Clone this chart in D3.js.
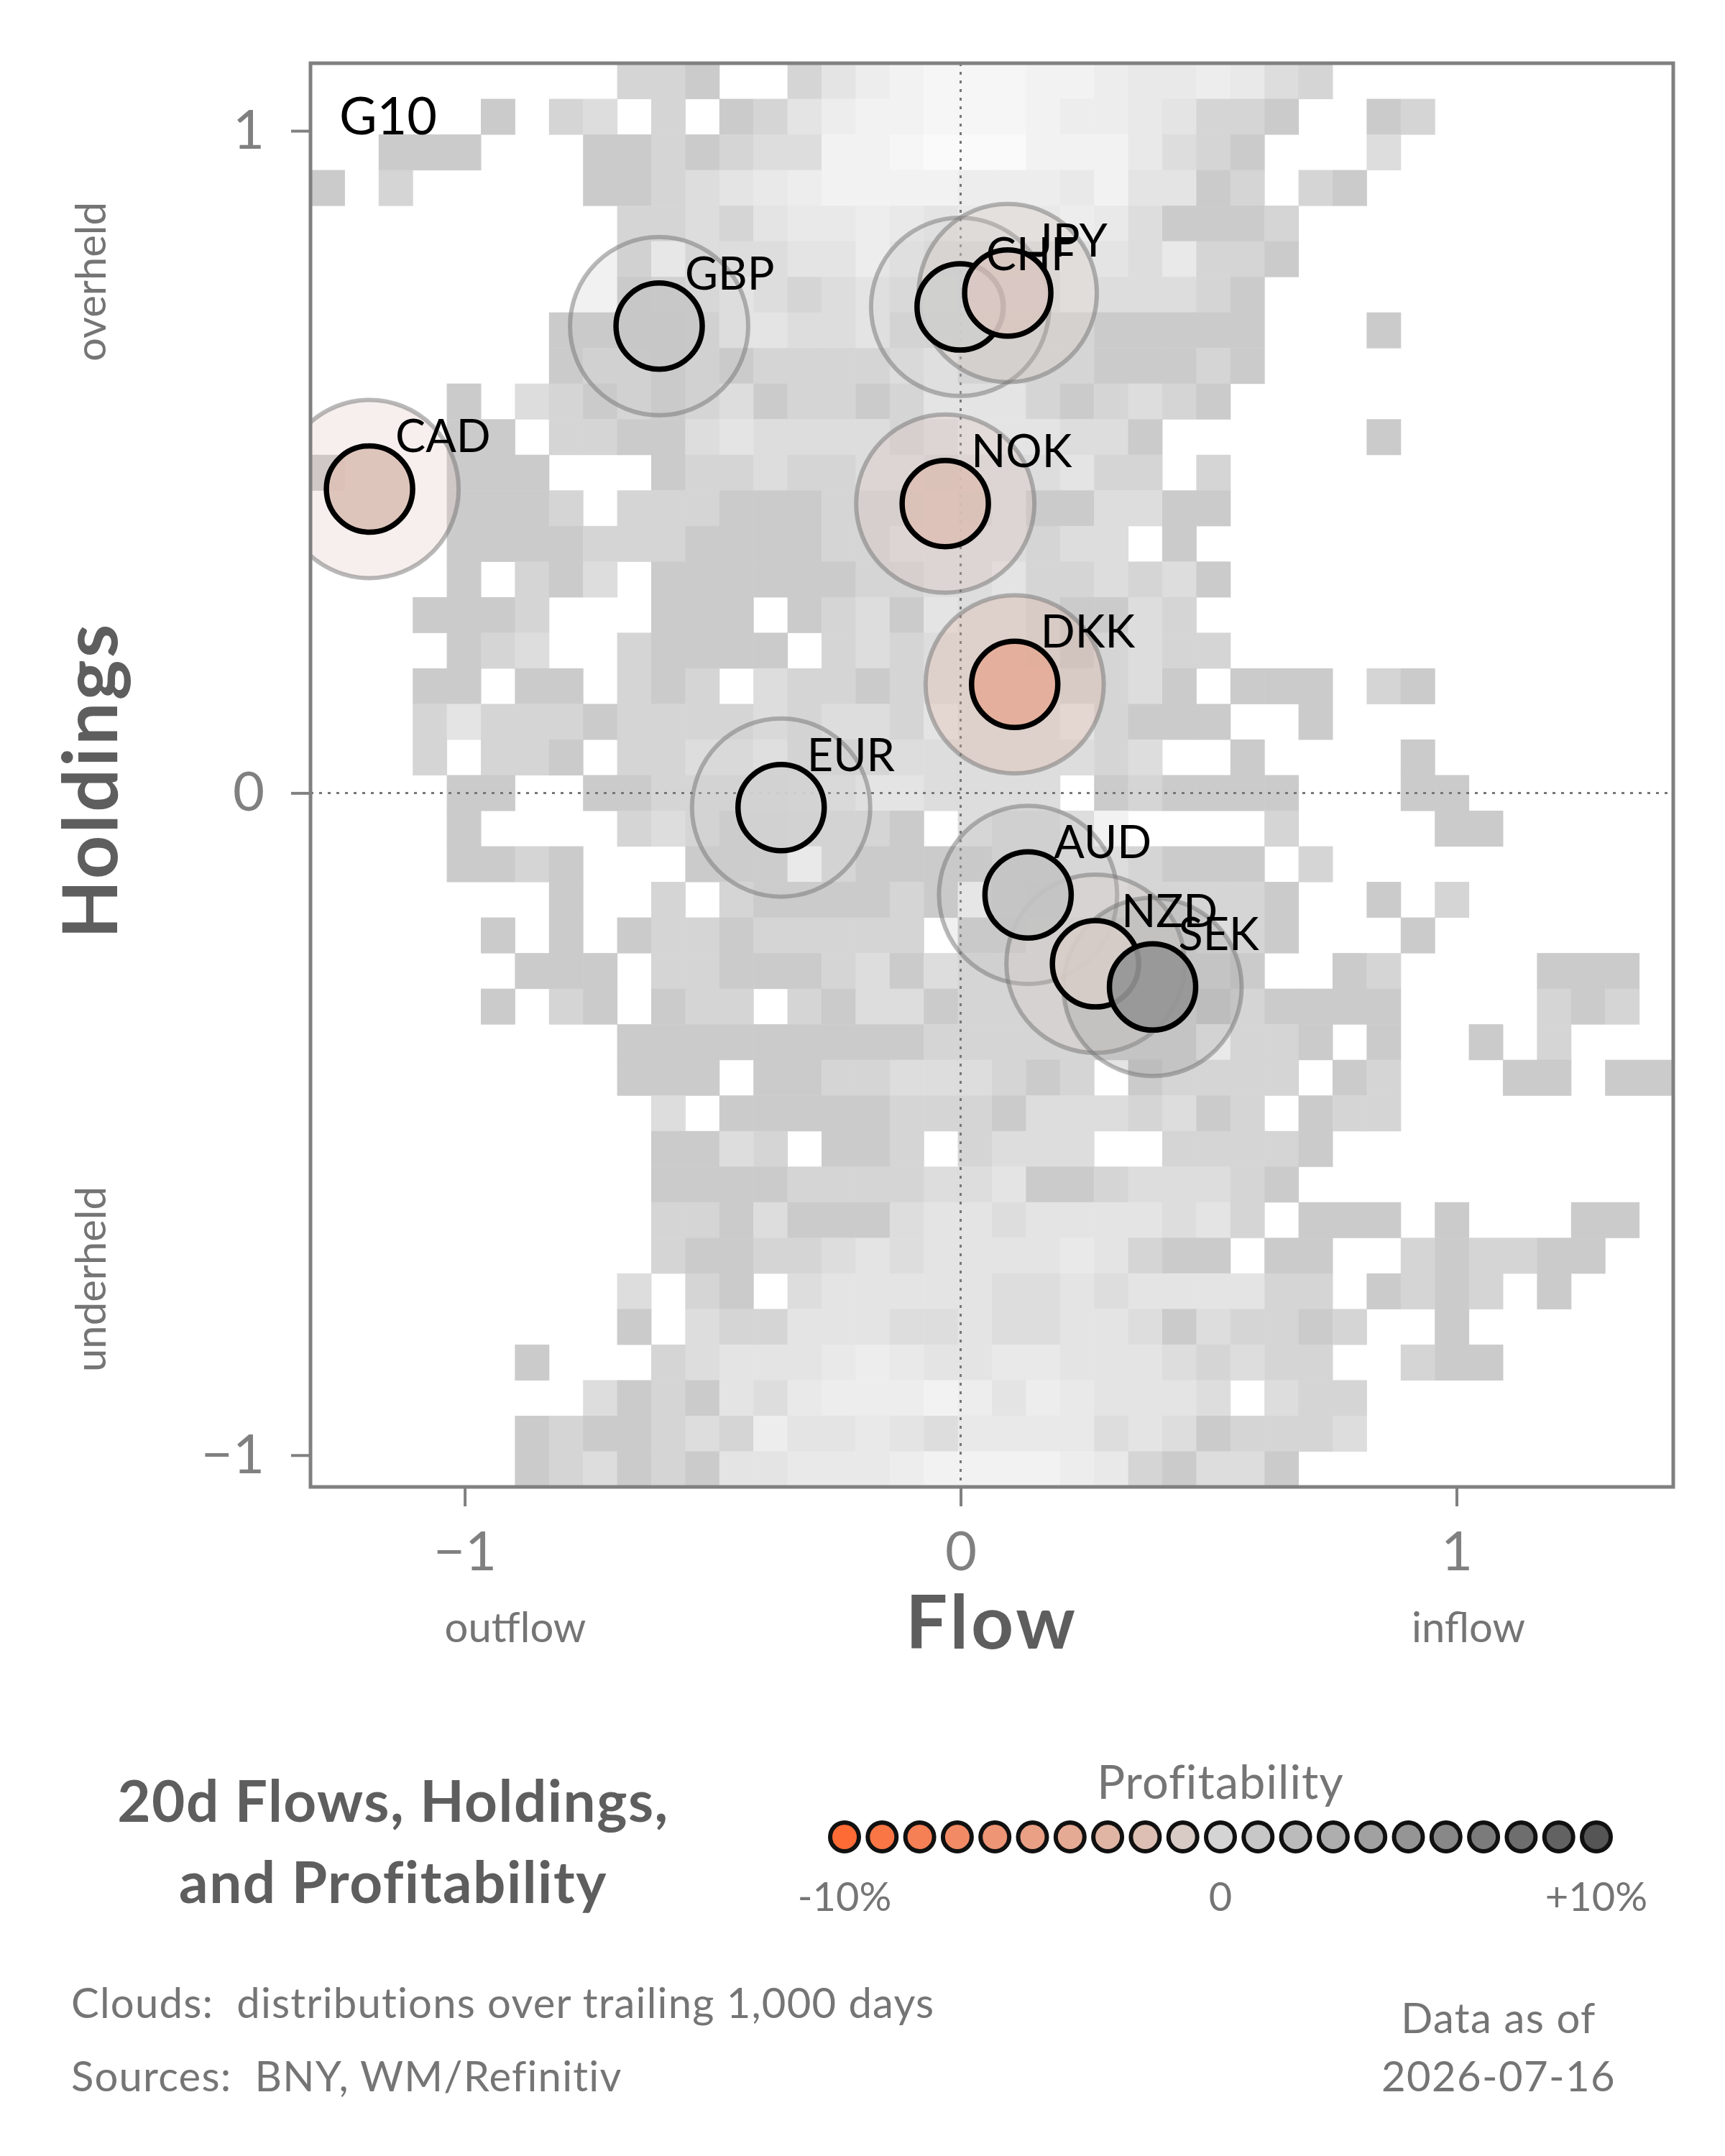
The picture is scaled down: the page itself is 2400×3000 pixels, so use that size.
<!DOCTYPE html>
<html>
<head>
<meta charset="utf-8">
<script src="https://cdn.jsdelivr.net/npm/d3@7"></script>
<style>
  body { margin: 0; background: #fff; }
  svg { display: block; font-family: Lato, "Open Sans", sans-serif; }
  .pre { white-space: pre; }
</style>
</head>
<body>
<svg id="chart" width="2400" height="3000"></svg>
<script>
// G10 currencies: 20d flow, holdings, profitability (%)
var ccy      = ["CAD", "GBP", "CHF", "JPY", "NOK", "DKK", "EUR", "AUD", "NZD", "SEK"];
var flow     = [-1.192, -0.608, -0.001, 0.095, -0.031, 0.109, -0.362, 0.136, 0.272, 0.387];
var holdings = [0.459, 0.705, 0.734, 0.755, 0.437, 0.164, -0.022, -0.154, -0.258, -0.293];
var profit   = [-1.9, 1.0, 0.5, -1.2, -1.9, -3.8, 0.2, 1.3, -0.7, 5.0];

// clouds: 40x40 bins over the plot area, top row first
// '.' = no days, 1 = few days ... 9 = most days
var cloud = [
  ".........221..2467888776556532..........",
  ".....1.23.2.12467788876654221..12.......",
  "..111...11212337789997775321...3........",
  "1.2.....11234567777666574412.21.........",
  ".........22324556545556531112...........",
  ".........27333446433434435221...........",
  ".........1234323434333433321............",
  ".......111124433422222211111...1........",
  ".......122121222234222211121............",
  "....1.321212312212444212321.............",
  "....11.221134333323444331......1........",
  "1...111...122322332333422.2.............",
  "....1112.222111222323113311.............",
  "....11112221111223333233.1..............",
  "....1.213.11111122334223231.............",
  "...1112...111.123143321132..............",
  "....123..21111.232333212322.............",
  "...11.11.212.3221233332231.111.21.......",
  "...242221222232332433342111..1..........",
  "...2.221.2233422233333323..1....1.......",
  "....11..11222233443333.121111...11......",
  "....1....232112221.32237....2....11.....",
  "....1121...11172111122332111.2..........",
  ".......1..2.21111217213322221..1.2......",
  ".....1.1.122122222.1122222321...1.......",
  "......111.221112313222222221..12....111.",
  ".....1.21.122.213312222222121111....212.",
  ".........111111111222222225221.1..1.2...",
  ".........111.1122333212.12222.12...11.11",
  "..........3.1111122213332312.122........",
  "..........1132.112.2333..22221..........",
  "..........1111222233411233321...........",
  "..........221311134434444342.111.1...11.",
  "..........21122343444454211.11..212211..",
  ".........3.21.3444443343444422.1212.1...",
  ".........1.32244433433443132212..1......",
  "......1...23444565445544432322..211.....",
  "........3121435666764654443.322.........",
  "......1211232644543555534312223.........",
  "......12312144555677776521331..........."
];

var xTicks = [-1, 0, 1];
var yTicks = [1, 0, -1];
var legendSteps = [-10, -9, -8, -7, -6, -5, -4, -3, -2, -1, 0, 1, 2, 3, 4, 5, 6, 7, 8, 9, 10];
var legendLabels = ["-10%", "0", "+10%"];

var svg = d3.select("#chart");
var plot = {left: 432, right: 2328, top: 88, bottom: 2069};
var grey = "#808080", dark = "#5e5e5e", soft = "#757575";

var x = d3.scaleLinear().domain([-1.311, 1.437]).range([plot.left, plot.right]);
var y = d3.scaleLinear().domain([-1.048, 1.102]).range([plot.bottom, plot.top]);
var col = d3.scaleBand().domain(d3.range(40)).range([plot.left, plot.right]);
var row = d3.scaleBand().domain(d3.range(40)).range([plot.top, plot.bottom]);

var cloudColor = d3.scaleLinear()
  .domain([1, 2, 3, 4, 5, 6, 7, 8, 9])
  .range(["#cbcbcb", "#d5d5d5", "#dddddd", "#e4e4e4", "#e9e9e9", "#ededed", "#f2f2f2", "#f6f6f6", "#fafafa"]);
var profitColor = d3.scaleLinear()
  .domain([-10, 0, 10])
  .range(["#ff6b35", "#d4d4d4", "#555555"]);

svg.append("defs").append("clipPath").attr("id", "plotclip")
  .append("rect")
  .attr("x", plot.left).attr("y", plot.top)
  .attr("width", plot.right - plot.left).attr("height", plot.bottom - plot.top);

// cloud cells
var cells = [];
cloud.forEach(function(line, r){
  line.split("").forEach(function(ch, c){
    if (ch !== ".") cells.push({r: r, c: c, v: +ch});
  });
});

var inner = svg.append("g").attr("clip-path", "url(#plotclip)");

inner.selectAll("rect.cell")
  .data(cells)
  .enter().append("rect")
  .attr("class", "cell")
  .attr("x", function(d){ return col(d.c); })
  .attr("y", function(d){ return row(d.r); })
  .attr("width", col.bandwidth() + 0.5)
  .attr("height", row.bandwidth() + 0.5)
  .attr("fill", function(d){ return cloudColor(d.v); });

// zero lines
inner.append("line")
  .attr("x1", x(0)).attr("x2", x(0))
  .attr("y1", plot.top).attr("y2", plot.bottom)
  .attr("stroke", "#777").attr("stroke-width", 3).attr("stroke-dasharray", "4,8");
inner.append("line")
  .attr("x1", plot.left).attr("x2", plot.right)
  .attr("y1", y(0)).attr("y2", y(0))
  .attr("stroke", "#777").attr("stroke-width", 3).attr("stroke-dasharray", "4,8");

var pts = ccy.map(function(c, i){
  return {name: c, fx: flow[i], hy: holdings[i], p: profit[i]};
});

// halos
inner.selectAll("circle.halo")
  .data(pts)
  .enter().append("circle")
  .attr("class", "halo")
  .attr("cx", function(d){ return x(d.fx); })
  .attr("cy", function(d){ return y(d.hy); })
  .attr("r", 124)
  .attr("fill", function(d){ return profitColor(d.p); })
  .attr("fill-opacity", 0.25)
  .attr("stroke", "rgba(115,115,115,0.5)")
  .attr("stroke-width", 6);

// markers
inner.selectAll("circle.dot")
  .data(pts)
  .enter().append("circle")
  .attr("class", "dot")
  .attr("cx", function(d){ return x(d.fx); })
  .attr("cy", function(d){ return y(d.hy); })
  .attr("r", 60)
  .attr("fill", function(d){ return profitColor(d.p); })
  .attr("fill-opacity", 0.9)
  .attr("stroke", "#000")
  .attr("stroke-width", 7.5);

inner.selectAll("text.lab")
  .data(pts)
  .enter().append("text")
  .attr("class", "lab")
  .attr("x", function(d){ return x(d.fx) + 36; })
  .attr("y", function(d){ return y(d.hy) - 51; })
  .attr("font-size", 63)
  .attr("fill", "#000")
  .text(function(d){ return d.name; });

svg.append("text")
  .attr("x", 472).attr("y", 187)
  .attr("font-size", 72).attr("fill", "#000")
  .text("G10");

// frame
svg.append("rect")
  .attr("x", plot.left).attr("y", plot.top)
  .attr("width", plot.right - plot.left).attr("height", plot.bottom - plot.top)
  .attr("fill", "none").attr("stroke", grey).attr("stroke-width", 5);

// axes
var xAxis = svg.append("g")
  .attr("transform", "translate(0," + plot.bottom + ")")
  .call(d3.axisBottom(x).tickValues(xTicks).tickSize(27).tickPadding(35).tickFormat(d3.format("d")));
var yAxis = svg.append("g")
  .attr("transform", "translate(" + plot.left + ",0)")
  .call(d3.axisLeft(y).tickValues(yTicks).tickSize(27).tickPadding(37).tickFormat(d3.format("d")));

[xAxis, yAxis].forEach(function(a){
  a.select(".domain").remove();
  a.selectAll(".tick line").attr("stroke", grey).attr("stroke-width", 4);
  a.selectAll(".tick text")
    .attr("fill", grey)
    .attr("font-size", 76)
    .attr("font-family", "Lato, sans-serif");
});

// axis titles
svg.append("text")
  .attr("x", (plot.left + plot.right) / 2).attr("y", 2294)
  .attr("text-anchor", "middle").attr("font-size", 103).attr("font-weight", 700)
  .attr("letter-spacing", 4)
  .attr("fill", dark).text("Flow");
svg.append("text")
  .attr("x", 717).attr("y", 2285)
  .attr("text-anchor", "middle").attr("font-size", 58).attr("fill", soft)
  .text("outflow");
svg.append("text")
  .attr("x", 2043).attr("y", 2285)
  .attr("text-anchor", "middle").attr("font-size", 58).attr("fill", soft)
  .text("inflow");

svg.append("text")
  .attr("transform", "translate(163,1086) rotate(-90)")
  .attr("text-anchor", "middle").attr("font-size", 106).attr("font-weight", 700)
  .attr("letter-spacing", 3)
  .attr("fill", dark).text("Holdings");
svg.append("text")
  .attr("transform", "translate(147,392) rotate(-90)")
  .attr("text-anchor", "middle").attr("font-size", 58).attr("fill", soft)
  .text("overheld");
svg.append("text")
  .attr("transform", "translate(147,1780) rotate(-90)")
  .attr("text-anchor", "middle").attr("font-size", 58).attr("fill", soft)
  .text("underheld");

// title block
svg.append("text")
  .attr("x", 547).attr("y", 2535)
  .attr("text-anchor", "middle").attr("font-size", 80).attr("font-weight", 700)
  .attr("letter-spacing", 1.5)
  .attr("fill", dark).text("20d Flows, Holdings,");
svg.append("text")
  .attr("x", 547).attr("y", 2648)
  .attr("text-anchor", "middle").attr("font-size", 80).attr("font-weight", 700)
  .attr("letter-spacing", 1.5)
  .attr("fill", dark).text("and Profitability");

// legend
var lx = d3.scaleLinear().domain([-10, 10]).range([1175, 2221]);
svg.append("text")
  .attr("x", lx(0)).attr("y", 2503)
  .attr("text-anchor", "middle").attr("font-size", 65).attr("fill", soft)
  .attr("letter-spacing", 1)
  .text("Profitability");
svg.append("g").selectAll("circle")
  .data(legendSteps)
  .enter().append("circle")
  .attr("cx", function(d){ return lx(d); })
  .attr("cy", 2556)
  .attr("r", 20)
  .attr("fill", function(d){ return profitColor(d); })
  .attr("stroke", "#111").attr("stroke-width", 6);
svg.append("g").selectAll("text")
  .data([-10, 0, 10])
  .enter().append("text")
  .attr("x", function(d){ return lx(d); })
  .attr("y", 2659)
  .attr("text-anchor", "middle").attr("font-size", 56).attr("fill", soft)
  .text(function(d, i){ return legendLabels[i]; });

// footer
svg.append("text").attr("class", "pre")
  .attr("x", 99).attr("y", 2808)
  .attr("font-size", 58).attr("letter-spacing", 1.2).attr("fill", soft)
  .text("Clouds:  distributions over trailing 1,000 days");
svg.append("text").attr("class", "pre")
  .attr("x", 99).attr("y", 2910)
  .attr("font-size", 58).attr("letter-spacing", 1.2).attr("fill", soft)
  .text("Sources:  BNY, WM/Refinitiv");
svg.append("text")
  .attr("x", 2085).attr("y", 2829)
  .attr("text-anchor", "middle").attr("font-size", 58).attr("letter-spacing", 1.4).attr("fill", soft)
  .text("Data as of");
svg.append("text")
  .attr("x", 2085).attr("y", 2910)
  .attr("text-anchor", "middle").attr("font-size", 58).attr("letter-spacing", 1.4).attr("fill", soft)
  .text("2026-07-16");
</script>
</body>
</html>
